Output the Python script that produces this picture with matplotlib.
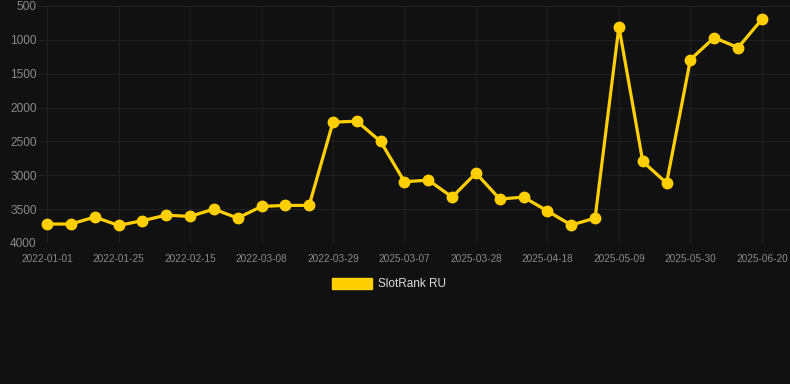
import numpy as np
import matplotlib
matplotlib.use('Agg')
import matplotlib.pyplot as plt
from matplotlib.patches import Patch

# one label per point, only every third one is shown on the axis
dates = ['2022-01-01', '2022-01-09', '2022-01-17', '2022-01-25', '2022-02-01',
         '2022-02-08', '2022-02-15', '2022-02-22', '2022-03-01', '2022-03-08',
         '2022-03-15', '2022-03-22', '2022-03-29', '2022-04-05', '2022-04-12',
         '2025-03-07', '2025-03-14', '2025-03-21', '2025-03-28', '2025-04-04',
         '2025-04-11', '2025-04-18', '2025-04-25', '2025-05-02', '2025-05-09',
         '2025-05-16', '2025-05-23', '2025-05-30', '2025-06-06', '2025-06-13',
         '2025-06-20']
rank = [3720, 3720, 3617, 3740, 3671, 3588, 3608, 3499, 3632, 3460,
        3445, 3445, 2216, 2201, 2501, 3096, 3071, 3322, 2968, 3351,
        3322, 3528, 3735, 3632, 805, 2796, 3115, 1291, 967, 1115, 697]
y_ticks = [500, 1000, 1500, 2000, 2500, 3000, 3500, 4000]
series_name = 'SlotRank RU'

bg = '#111111'
gold = '#ffcf00'

plt.rcParams['font.family'] = ['Liberation Sans', 'DejaVu Sans']

fig = plt.figure(figsize=(7.9, 3.84), dpi=100, facecolor=bg)
ax = fig.add_axes([38 / 790, 141 / 384, 752 / 790, 237 / 384], facecolor=bg)

x = np.arange(len(dates))
ax.plot(x, rank, color=gold, linewidth=2.3, marker='o', markersize=7.5,
        zorder=3)

ax.set_ylim(4000, 500)
ax.set_xlim(-0.38, len(dates) - 1 + 1.18)
ax.set_yticks(y_ticks)
ax.set_xticks(x[::3])
ax.set_xticklabels(dates[::3])

ax.grid(True, color='#1f1f1f', linewidth=0.8)
for s in ax.spines.values():
    s.set_visible(False)
ax.tick_params(axis='y', length=0, pad=1, labelsize=8.6, labelcolor='#8a8a8a')
ax.tick_params(axis='x', length=0, pad=8, labelsize=7.2, labelcolor='#8a8a8a')

handle = Patch(facecolor=gold, edgecolor=gold)
fig.legend([handle], [series_name], loc='center', bbox_to_anchor=(0.492, 0.26),
           frameon=False, fontsize=8.5, labelcolor='#dddddd',
           handlelength=3.4, handleheight=1.0, handletextpad=0.5)

fig.savefig('out.png', dpi=100, facecolor=bg)
